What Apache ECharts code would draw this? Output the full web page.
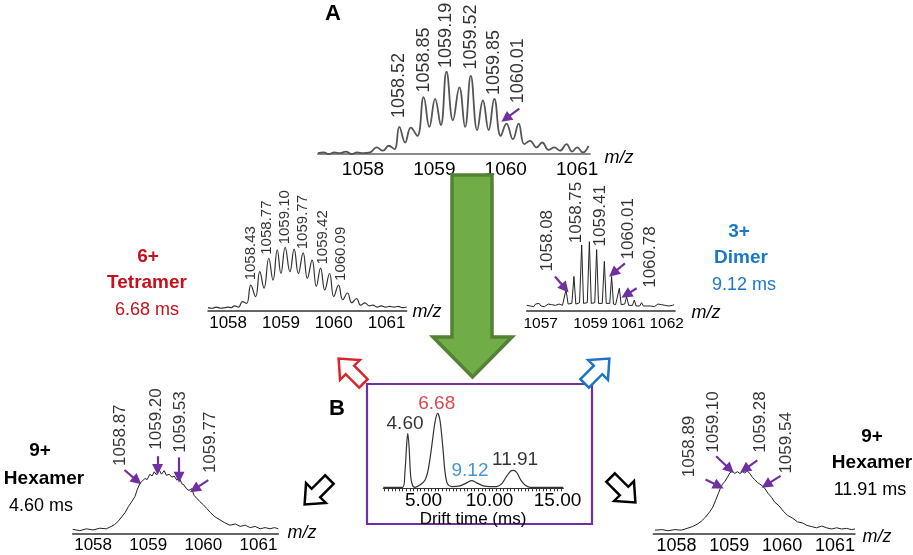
<!DOCTYPE html>
<html><head><meta charset="utf-8">
<script src="https://cdn.jsdelivr.net/npm/echarts@6.0.0/dist/echarts.min.js"></script>
<style>html,body{margin:0;padding:0;background:#fff}#c{width:913px;height:555px}</style>
</head><body><div id="c"></div>
<script>
// ---------------- DATA (m/z or ms, relative intensity) ----------------
// Panel A: full 3+ spectrum
const specA = [[1057.37,1],[1057.45,2],[1057.52,0],[1057.60,2],[1057.68,1],[1057.76,3],[1057.84,0],[1057.92,2],[1058.00,1],[1058.10,2],[1058.19,8],[1058.28,4],[1058.36,10],[1058.44,6],[1058.51,33],[1058.59,14],[1058.67,32],[1058.76,22],[1058.85,69],[1058.93,33],[1059.01,67],[1059.09,35],[1059.17,100],[1059.26,41],[1059.35,81],[1059.43,33],[1059.51,95],[1059.60,29],[1059.68,65],[1059.76,29],[1059.84,67],[1059.93,22],[1060.01,37],[1060.10,18],[1060.18,37],[1060.26,12],[1060.34,16],[1060.43,8],[1060.51,14],[1060.60,5],[1060.68,8],[1060.76,4],[1060.85,12],[1060.93,3],[1061.00,8],[1061.08,2],[1061.16,10]];
const peaksA = ['1058.52','1058.85','1059.19','1059.52','1059.85','1060.01'];

// 6+ tetramer (6.68 ms)
const specTet = [[1057.62,1],[1057.70,0],[1057.78,2],[1057.86,0],[1057.94,1],[1058.00,2],[1058.06,1],[1058.12,4],[1058.20,2],[1058.27,11],[1058.35,8],[1058.43,38],[1058.52,19],[1058.60,60],[1058.68,33],[1058.77,82],[1058.85,46],[1058.93,96],[1059.00,57],[1059.08,100],[1059.17,60],[1059.25,97],[1059.33,57],[1059.42,91],[1059.50,49],[1059.59,79],[1059.67,36],[1059.75,66],[1059.83,30],[1059.92,57],[1060.00,19],[1060.09,38],[1060.17,14],[1060.26,25],[1060.34,9],[1060.43,16],[1060.51,5],[1060.59,9],[1060.67,4],[1060.74,5],[1060.82,2],[1060.90,4],[1060.98,2],[1061.06,3],[1061.14,2],[1061.22,3],[1061.30,1],[1061.38,2]];
const peaksTet = ['1058.43','1058.77','1059.10','1059.77','1059.42','1060.09'];

// 3+ dimer (9.12 ms)
const specDim = [[1056.40,3],[1056.48,5],[1056.55,2],[1056.63,4],[1056.70,1],[1056.78,5],[1056.86,3],[1056.93,6],[1057.01,2],[1057.09,4],[1057.16,1],[1057.24,3],[1057.32,5],[1057.40,2],[1057.47,4],[1057.55,1],[1057.63,3],[1057.71,2],[1057.78,5],[1057.86,2],[1057.93,3],[1057.98,6],[1058.08,27],[1058.17,5],[1058.25,3],[1058.33,6],[1058.42,47],[1058.50,5],[1058.58,3],[1058.66,7],[1058.75,95],[1058.83,6],[1058.91,4],[1058.99,7],[1059.08,100],[1059.16,6],[1059.24,4],[1059.31,7],[1059.39,88],[1059.47,6],[1059.55,5],[1059.63,6],[1059.72,70],[1059.80,6],[1059.88,4],[1059.95,6],[1060.03,47],[1060.11,5],[1060.20,4],[1060.28,5],[1060.36,29],[1060.44,4],[1060.52,3],[1060.59,5],[1060.67,16],[1060.76,3],[1060.84,4],[1060.92,3],[1061.00,11],[1061.08,2],[1061.16,4],[1061.23,2],[1061.31,7],[1061.39,2],[1061.46,4],[1061.55,2],[1061.63,5],[1061.70,2],[1061.78,4],[1061.86,1],[1061.94,3],[1062.01,5],[1062.09,2],[1062.17,4],[1062.24,1],[1062.32,3],[1062.40,5],[1062.48,2],[1062.55,4],[1062.63,3],[1062.70,4]];
const peaksDim = ['1058.08','1058.75','1059.41','1060.01','1060.78'];

// 9+ hexamer (4.60 ms)
const specHexL = [[1057.63,1],[1057.76,-1],[1057.88,2],[1058.00,0],[1058.12,3],[1058.24,2],[1058.33,6],[1058.39,9],[1058.45,14],[1058.52,22],[1058.58,29],[1058.64,39],[1058.70,47],[1058.76,56],[1058.80,67],[1058.85,78],[1058.90,82],[1058.94,86],[1058.98,84],[1059.03,93],[1059.07,90],[1059.11,97],[1059.15,92],[1059.20,100],[1059.24,93],[1059.29,99],[1059.33,91],[1059.38,93],[1059.43,88],[1059.47,90],[1059.52,83],[1059.56,88],[1059.61,77],[1059.65,75],[1059.70,68],[1059.74,66],[1059.79,69],[1059.83,58],[1059.88,53],[1059.94,47],[1060.00,42],[1060.06,36],[1060.13,29],[1060.21,22],[1060.30,17],[1060.39,12],[1060.48,8],[1060.58,10],[1060.67,6],[1060.76,8],[1060.85,4],[1060.94,6],[1061.03,2],[1061.12,4],[1061.21,2],[1061.29,4],[1061.36,2]];
const peaksHexL = ['1058.87','1059.20','1059.53','1059.77'];

// 9+ hexamer (11.91 ms)
const specHexR = [[1057.59,1],[1057.72,2],[1057.84,0],[1057.97,2],[1058.09,1],[1058.20,4],[1058.30,7],[1058.39,11],[1058.47,16],[1058.55,23],[1058.63,32],[1058.69,40],[1058.74,51],[1058.79,62],[1058.83,71],[1058.87,78],[1058.91,82],[1058.96,89],[1059.01,97],[1059.06,100],[1059.10,96],[1059.15,99],[1059.20,96],[1059.25,99],[1059.29,97],[1059.34,100],[1059.39,96],[1059.44,89],[1059.48,86],[1059.53,81],[1059.58,78],[1059.63,75],[1059.68,70],[1059.73,63],[1059.80,56],[1059.86,48],[1059.94,42],[1060.02,33],[1060.10,26],[1060.20,21],[1060.29,15],[1060.39,13],[1060.47,9],[1060.56,7],[1060.65,5],[1060.75,8],[1060.84,5],[1060.94,3],[1061.03,5],[1061.13,3],[1061.22,4],[1061.31,2],[1061.38,3]];
const peaksHexR = ['1058.89','1059.10','1059.28','1059.54'];

// Drift time distribution
const specDrift = [[2.90,0],[3.50,0],[4.25,0],[4.40,20],[4.53,60],[4.60,73],[4.69,55],[4.80,15],[4.94,2],[5.10,0],[5.45,3],[5.80,10],[6.03,25],[6.26,55],[6.49,88],[6.68,100],[6.84,90],[7.03,55],[7.19,20],[7.35,5],[7.65,1],[8.23,2],[8.69,6],[9.04,9],[9.39,6],[9.85,2],[10.31,1],[10.78,1],[11.13,5],[11.47,15],[11.75,22],[11.93,23],[12.17,20],[12.44,10],[12.74,3],[13.09,0],[14.00,0],[15.40,0]];
const peaksDrift = ['4.60','6.68','9.12','11.91'];

// Tick labels
const ticksA = [1058,1059,1060,1061];
const ticksTet = [1058,1059,1060,1061];
const ticksDim = [1057,1059,1061,1062];
const ticksHexL = [1058,1059,1060,1061];
const ticksHexR = [1058,1059,1060,1061];
const ticksDrift = [5,10,15];

// ---------------- ANNOTATION ANCHORS (data coords) ----------------
const anchA = [[1058.51,43],[1058.85,74],[1059.17,104],[1059.51,102],[1059.84,71],[1060.17,61]];
const arrowsA = [[1060.19,55,1060.00,43]];
const anchTet = [[1058.44,45],[1058.74,87],[1059.07,104],[1059.42,96],[1059.80,71],[1060.14,44]];
const anchDim = [[1057.26,54],[1058.54,97],[1059.53,92],[1060.74,72],[1061.67,29]];
const arrowsDim = [[1057.61,47,1058.04,29],[1060.60,67,1060.10,52],[1061.10,29,1060.65,19]];
const anchHexL = [[1058.49,106],[1059.15,133],[1059.58,128],[1060.12,94]];
const arrowsHexL = [[1058.57,100,1058.80,82],[1059.17,123,1059.17,101],[1059.56,121,1059.56,88],[1060.09,83,1059.84,68]];
const anchHexR = [[1058.25,89],[1058.69,130],[1059.58,130],[1060.08,95]];
const arrowsHexR = [[1058.55,86,1058.80,75],[1058.75,125,1059.01,103],[1059.53,118,1059.29,103],[1059.97,92,1059.70,77]];
const anchDrift = [[4.41,73],[6.61,99],[8.92,9],[12.05,24]];
const driftLabelColors = ['#000','#d0191f','#1a78c8','#000'];

// ---------------- LAYOUT ----------------
const FF = "'Liberation Sans', Arial, sans-serif";
const PURPLE = '#7030a0', RED = '#c80f1a', BLUE = '#1a78c8', INK = '#000';
// bottom = pixel row of axis line, y100 = pixel row of intensity 100
const panels = [
  {left:318, width:272, bottom:154, y100:71.7, xmin:1057.37, xmax:1061.18, ymin:0, ymax:115, ticks:ticksA, tickFont:19, margin:6, axisColor:'#8a8a8a', axisWidth:2,
   spec:specA, smooth:0.45, lineColor:'#555', lineWidth:1.8, names:peaksA, anch:anchA, arrows:arrowsA, labFont:18},
  {left:208, width:198.7, bottom:310.7, y100:247.3, xmin:1057.62, xmax:1061.38, ymin:-4, ymax:115, ticks:ticksTet, tickFont:17, margin:4, axisColor:'#333', axisWidth:1.5,
   spec:specTet, smooth:0.45, lineColor:'#333', lineWidth:1.2, names:peaksTet, anch:anchTet, arrows:[], labFont:15},
  {left:526.7, width:148.3, bottom:311, y100:241.7, xmin:1056.40, xmax:1062.74, ymin:-5.6, ymax:115, ticks:ticksDim, tickFont:15.5, margin:5, axisColor:'#333', axisWidth:1.5,
   spec:specDim, smooth:false, lineColor:'#222', lineWidth:1, names:peaksDim, anch:anchDim, arrows:arrowsDim, labFont:17,
   shift:{1059:3,1061:-6,1062:9}},
  {left:72.7, width:205.6, bottom:533.3, y100:470, xmin:1057.63, xmax:1061.36, ymin:-5.5, ymax:145, ticks:ticksHexL, tickFont:17, margin:4, axisColor:'#333', axisWidth:1.5,
   spec:specHexL, smooth:false, lineColor:'#222', lineWidth:1, names:peaksHexL, anch:anchHexL, arrows:arrowsHexL, labFont:17},
  {left:653.3, width:201.7, bottom:536, y100:471.7, xmin:1057.56, xmax:1061.38, ymin:-5.4, ymax:145, ticks:ticksHexR, tickFont:18, margin:3, axisColor:'#333', axisWidth:1.5,
   spec:specHexR, smooth:false, lineColor:'#222', lineWidth:1, names:peaksHexR, anch:anchHexR, arrows:arrowsHexR, labFont:17},
  {left:383.3, width:180, bottom:488.3, y100:413.3, xmin:2.90, xmax:15.40, ymin:-1.35, ymax:110, ticks:ticksDrift, tickFont:19, margin:3, axisColor:'#333', axisWidth:1.2,
   spec:specDrift, smooth:0.3, lineColor:'#333', lineWidth:1.2, names:peaksDrift, anch:anchDrift, arrows:[], labFont:19, drift:true,
   shift:{5:10,10:4}}
];

const driftTicks = [];
for (let t = 3; t <= 15.3; t += 0.25) driftTicks.push(+t.toFixed(2));

const grid = [], xAxis = [], yAxis = [], series = [];
panels.forEach((p, i) => {
  const k = (p.bottom - p.y100) / (100 - p.ymin);
  const height = (p.ymax - p.ymin) * k;
  grid.push({left:p.left, top:p.bottom - height, width:p.width, height:height});
  const rich = {};
  const fmt = v => {
    const t = p.drift ? v.toFixed(2) : String(v);
    const s = p.shift && p.shift[v];
    if (s) { const key = 's' + i + '_' + String(v).replace('.', '_'); rich[key] = {fontSize:p.tickFont, fontFamily:FF, color:INK, padding: s > 0 ? [0,0,0,2*s] : [0,-2*s,0,0]}; return '{' + key + '|' + t + '}'; }
    return t;
  };
  if (p.shift) Object.keys(p.shift).forEach(v => fmt(+v));
  xAxis.push({gridIndex:i, type:'value', min:p.xmin, max:p.xmax,
    axisLine:{show:true, onZero:false, lineStyle:{color:p.axisColor, width:p.axisWidth}},
    axisTick: p.drift ? {show:true, customValues:driftTicks, length:3, inside:false, lineStyle:{color:'#333', width:1}} : {show:false},
    splitLine:{show:false},
    axisLabel:{customValues:p.ticks, formatter:fmt, rich:rich, fontSize:p.tickFont, fontFamily:FF, color:INK, margin:p.margin, showMinLabel:true, showMaxLabel:true}});
  yAxis.push({gridIndex:i, type:'value', min:p.ymin, max:p.ymax, show:false});
  series.push({type:'line', xAxisIndex:i, yAxisIndex:i, data:p.spec, symbol:'none', smooth:p.smooth, silent:true, clip:false,
    lineStyle:{color:p.lineColor, width:p.lineWidth},
    markLine: p.arrows.length ? {silent:true, animation:false, symbol:['none','triangle'], symbolSize:11, label:{show:false},
      lineStyle:{color:PURPLE, width:2.2, type:'solid'}, itemStyle:{color:PURPLE}, emphasis:{disabled:true},
      data:p.arrows.map(a => [{coord:[a[0],a[1]]},{coord:[a[2],a[3]]}])} : undefined});
  series.push({type:'scatter', xAxisIndex:i, yAxisIndex:i, symbolSize:1, clip:false, silent:true,
    itemStyle:{color:'rgba(0,0,0,0)'},
    data:p.names.map((n,k2) => {
      const d = {name:n, value:p.anch[k2]};
      if (p.drift) d.label = {color:driftLabelColors[k2]};
      return d;
    }),
    label: p.drift ? {show:true, formatter:'{b}', position:'top', distance:0, fontSize:p.labFont, fontFamily:FF, color:INK}
      : {show:true, formatter:'{b}', position:'top', distance:0, rotate:90, align:'left', verticalAlign:'middle', fontSize:p.labFont, fontFamily:FF, color:INK}});
});

// ---------------- GRAPHICS ----------------
function blockArrow(cx, cy, ang, L, sw, hw, hl, color) {
  const pts = [[-L/2,-sw/2],[L/2-hl,-sw/2],[L/2-hl,-hw/2],[L/2,0],[L/2-hl,hw/2],[L/2-hl,sw/2],[-L/2,sw/2]];
  const r = ang * Math.PI / 180, c = Math.cos(r), s = Math.sin(r);
  return {type:'polygon', shape:{points:pts.map(q => [cx + q[0]*c - q[1]*s, cy + q[0]*s + q[1]*c])},
    style:{fill:'#fff', stroke:color, lineWidth:2.5, lineJoin:'miter'}, silent:true, z:10};
}
function txt(t, x, y, size, color, weight, style) {
  return {type:'text', x:x, y:y, silent:true, z:20, style:{text:t, fill:color || INK, fontSize:size, fontWeight:weight || 'normal', fontStyle:style || 'normal', fontFamily:FF, align:'center', verticalAlign:'middle'}};
}
const graphic = [
  {type:'polygon', silent:true, z:5, shape:{points:[[452,175],[492,175],[492,337],[512,337],[472.5,377],[433,337],[452,337]]},
    style:{fill:'#70ad47', stroke:'#548235', lineWidth:3.5, lineJoin:'miter'}},
  {type:'rect', silent:true, z:5, shape:{x:367, y:384, width:225, height:140}, style:{fill:'none', stroke:PURPLE, lineWidth:2.2}},
  blockArrow(351, 371, -135, 35, 12, 28, 16, '#d9252b'),
  blockArrow(597, 371, -45, 35, 12, 28, 16, '#1c74c6'),
  blockArrow(317, 492, 135, 35, 12, 28, 16, '#000'),
  blockArrow(623, 490, 45, 35, 12, 28, 16, '#000'),
  txt('A', 333, 14, 22, INK, 'bold'),
  txt('B', 337, 409, 22, INK, 'bold'),
  txt('6+', 148, 257, 19, RED, 'bold'),
  txt('Tetramer', 147, 283, 19, RED, 'bold'),
  txt('6.68 ms', 147, 310, 18, RED),
  txt('3+', 739, 232, 19, BLUE, 'bold'),
  txt('Dimer', 741, 258, 19, BLUE, 'bold'),
  txt('9.12 ms', 744, 285, 18, BLUE),
  txt('9+', 40, 451, 19, INK, 'bold'),
  txt('Hexamer', 44, 479, 19, INK, 'bold'),
  txt('4.60 ms', 41, 506, 18, INK),
  txt('9+', 872, 437, 19, INK, 'bold'),
  txt('Hexamer', 872, 463, 19, INK, 'bold'),
  txt('11.91 ms', 870, 490, 18, INK),
  txt('m/z', 619, 158, 18, INK, 'normal', 'italic'),
  txt('m/z', 427, 312, 18, INK, 'normal', 'italic'),
  txt('m/z', 706, 313, 18, INK, 'normal', 'italic'),
  txt('m/z', 302, 533, 18, INK, 'normal', 'italic'),
  txt('m/z', 877, 537, 18, INK, 'normal', 'italic'),
  txt('Drift time (ms)', 473, 519, 17, INK)
];

const chart = echarts.init(document.getElementById('c'), null, {renderer:'canvas'});
chart.setOption({animation:false, backgroundColor:'#fff', grid, xAxis, yAxis, series, graphic});
</script>
</body></html>
